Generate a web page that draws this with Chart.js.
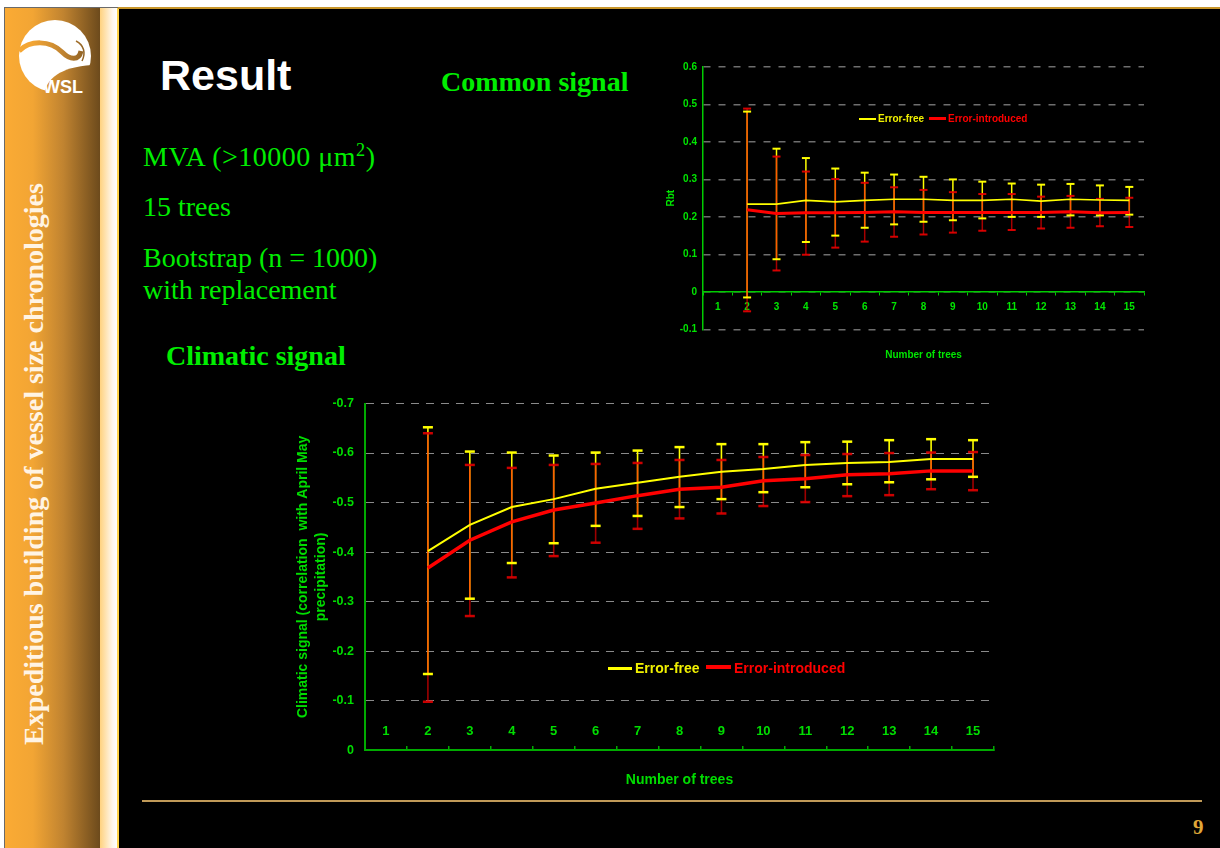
<!DOCTYPE html>
<html><head><meta charset="utf-8"><title>Result</title>
<script src="https://cdn.jsdelivr.net/npm/chart.js@4.4.1/dist/chart.umd.min.js"></script>
<style>
html,body{margin:0;padding:0;background:#fff;width:1220px;height:848px;overflow:hidden}
.abs{position:absolute;white-space:nowrap;margin:0}
.sans{font-family:"Liberation Sans",Arial,sans-serif}
.serif{font-family:"Liberation Serif","Times New Roman",serif}
.g{color:#00ee00}
</style></head><body>

<svg class="abs" style="left:0;top:0" width="120" height="848">
  <defs>
    <linearGradient id="side" gradientUnits="userSpaceOnUse" x1="4" y1="0" x2="100" y2="0">
      <stop offset="0" stop-color="#fbab34"/>
      <stop offset="0.3" stop-color="#f2a534"/>
      <stop offset="0.62" stop-color="#c08330"/>
      <stop offset="1" stop-color="#6c4a1c"/>
    </linearGradient>
    <linearGradient id="cream" gradientUnits="userSpaceOnUse" x1="100" y1="0" x2="117" y2="0">
      <stop offset="0" stop-color="#ffd27f"/>
      <stop offset="0.75" stop-color="#fff8ee"/>
      <stop offset="1" stop-color="#ffffff"/>
    </linearGradient>
  </defs>
  <rect x="4" y="7" width="96" height="841" fill="url(#side)"/>
  <rect x="100" y="7" width="17" height="841" fill="url(#cream)"/>
  <rect x="117" y="7" width="2" height="841" fill="#ffd34a"/>
  <rect x="4" y="7" width="1" height="841" fill="#6a6a6a"/>
  <rect x="4" y="7" width="114" height="1" fill="#6a6a6a"/>
  <!-- logo -->
  <circle cx="55" cy="56" r="36" fill="#ffffff"/>
  <path d="M19 51 C 30 40, 50 40, 62 52 C 70 60, 79 61, 81 51" stroke="url(#side)" stroke-width="5" fill="none"/>
  <path d="M44 95 C 46 79, 60 67, 92 65 L 96 100 L 44 100 Z" fill="url(#side)"/>
  <path d="M76 41 C 84 45, 86 53, 82 61" stroke="url(#side)" stroke-width="1.5" fill="none"/>
  <text x="43" y="93" font-family="Liberation Sans, Arial, sans-serif" font-weight="bold" font-size="18" fill="#ffffff">WSL</text>
  <text transform="translate(43,745) rotate(-90)" font-family="Liberation Serif, Times New Roman, serif" font-weight="bold" font-size="28" fill="#fff4e4">Expeditious building of vessel size chronologies</text>
</svg>

<div class="abs" style="left:119px;top:9px;width:1101px;height:839px;background:#000"></div>
<div class="abs" style="left:118px;top:7px;width:1102px;height:2px;background:#c8962a"></div>
<div class="abs" style="left:142px;top:800px;width:1060px;height:2px;background:#c09a58"></div>

<div class="abs sans" style="left:160px;top:53.6px;font-size:43px;line-height:43px;font-weight:bold;color:#ffffff">Result</div>
<div class="abs serif g" style="left:441px;top:67.5px;font-size:28px;line-height:28px;font-weight:bold">Common signal</div>
<div class="abs serif g" style="left:166px;top:341.7px;font-size:28px;line-height:28px;font-weight:bold">Climatic signal</div>
<div class="abs serif g" style="left:143px;top:142.5px;font-size:28px;line-height:28px;letter-spacing:0.5px">MVA (&gt;10000 μm<sup style="font-size:0.65em;line-height:0;vertical-align:0.55em">2</sup>)</div>
<div class="abs serif g" style="left:143px;top:192.5px;font-size:28px;line-height:28px">15 trees</div>
<div class="abs serif g" style="left:143px;top:243.5px;font-size:28px;line-height:28px">Bootstrap (n = 1000)</div>
<div class="abs serif g" style="left:143px;top:275.5px;font-size:28px;line-height:28px">with replacement</div>
<div class="abs serif" style="left:1193px;top:817px;font-size:21px;line-height:21px;font-weight:bold;color:#e0a838">9</div>

<canvas id="common" class="abs" width="510" height="310" style="left:650px;top:55px"></canvas>
<canvas id="climate" class="abs" width="730" height="410" style="left:280px;top:385px"></canvas>

<!-- legends -->
<div class="abs" style="left:859px;top:118px;width:17px;height:2px;background:#ffff00"></div>
<div class="abs sans" style="left:878px;top:113px;font-size:10px;line-height:12px;font-weight:bold;color:#f0f000">Error-free</div>
<div class="abs" style="left:929px;top:117px;width:17px;height:3px;background:#ff0000"></div>
<div class="abs sans" style="left:948px;top:113px;font-size:10px;line-height:12px;font-weight:bold;color:#ff0000">Error-introduced</div>

<div class="abs" style="left:608px;top:666.5px;width:24px;height:3px;background:#ffff00"></div>
<div class="abs sans" style="left:635px;top:660px;font-size:14px;line-height:16px;font-weight:bold;color:#f0f000">Error-free</div>
<div class="abs" style="left:706px;top:664.5px;width:25px;height:4px;background:#ff0000"></div>
<div class="abs sans" style="left:734px;top:660px;font-size:14px;line-height:16px;font-weight:bold;color:#ff0000">Error-introduced</div>

<script>
// ---------- data ----------
const categories = ['1','2','3','4','5','6','7','8','9','10','11','12','13','14','15'];

// Common signal (Rbt)
const commonFree     = [null, 0.234, 0.234, 0.244, 0.240, 0.244, 0.247, 0.247, 0.244, 0.244, 0.247, 0.242, 0.247, 0.245, 0.244];
const commonFreeHigh = [null, 0.481, 0.382, 0.357, 0.329, 0.318, 0.313, 0.307, 0.300, 0.294, 0.289, 0.286, 0.288, 0.284, 0.280];
const commonFreeLow  = [null, -0.015, 0.087, 0.133, 0.150, 0.171, 0.180, 0.187, 0.191, 0.196, 0.200, 0.200, 0.204, 0.204, 0.206];
const commonErr      = [null, 0.219, 0.209, 0.211, 0.211, 0.212, 0.214, 0.212, 0.212, 0.212, 0.212, 0.212, 0.214, 0.211, 0.212];
const commonErrHigh  = [null, 0.489, 0.361, 0.321, 0.301, 0.291, 0.279, 0.272, 0.266, 0.261, 0.261, 0.254, 0.256, 0.248, 0.251];
const commonErrLow   = [null, -0.052, 0.057, 0.099, 0.118, 0.134, 0.147, 0.153, 0.158, 0.163, 0.165, 0.169, 0.171, 0.175, 0.173];

// Climatic signal (correlation with April May precipitation)
const climFree     = [null, -0.402, -0.455, -0.491, -0.507, -0.528, -0.540, -0.552, -0.562, -0.568, -0.576, -0.580, -0.582, -0.588, -0.588];
const climFreeHigh = [null, -0.652, -0.603, -0.601, -0.595, -0.601, -0.605, -0.612, -0.618, -0.618, -0.622, -0.623, -0.626, -0.628, -0.626];
const climFreeLow  = [null, -0.154, -0.306, -0.378, -0.418, -0.453, -0.473, -0.491, -0.507, -0.521, -0.531, -0.537, -0.541, -0.547, -0.552];
const climErr      = [null, -0.368, -0.424, -0.461, -0.485, -0.499, -0.514, -0.527, -0.531, -0.544, -0.548, -0.556, -0.558, -0.564, -0.564];
const climErrHigh  = [null, -0.640, -0.576, -0.570, -0.576, -0.578, -0.580, -0.586, -0.586, -0.592, -0.596, -0.598, -0.600, -0.601, -0.602];
const climErrLow   = [null, -0.098, -0.271, -0.349, -0.392, -0.419, -0.447, -0.468, -0.478, -0.493, -0.501, -0.513, -0.515, -0.527, -0.525];

const seriesNames = ['Error-free', 'Error-introduced'];
const commonYTitle = 'Rbt';
const climYTitle = ['Climatic signal (correlation  with April May', 'precipitation)'];
const xTitle = 'Number of trees';

// tick label formatting: one decimal, plain "0" at zero
const fmtTick = v => (Math.abs(v) < 1e-9 ? '0' : (Math.round(v * 10) / 10).toFixed(1));

// ---------- error bar plugin ----------
function errorBars(sets, capHalf, stemWidth, capWidth) {
  return {
    id: 'errorBars',
    beforeDatasetsDraw(chart) {
      const ctx = chart.ctx, xs = chart.scales.x, ys = chart.scales.y;
      ctx.save();
      sets.forEach(s => {
        ctx.strokeStyle = s.stem; ctx.lineWidth = stemWidth;
        for (let i = 0; i < categories.length; i++) {
          if (s.high[i] == null) continue;
          const x = xs.getPixelForValue(i);
          ctx.beginPath();
          ctx.moveTo(x, ys.getPixelForValue(s.high[i]));
          ctx.lineTo(x, ys.getPixelForValue(s.low[i]));
          ctx.stroke();
        }
      });
      sets.slice().reverse().forEach(s => {
        ctx.strokeStyle = s.cap; ctx.lineWidth = capWidth;
        for (let i = 0; i < categories.length; i++) {
          if (s.high[i] == null) continue;
          const x = xs.getPixelForValue(i);
          [s.high[i], s.low[i]].forEach(v => {
            const y = ys.getPixelForValue(v);
            ctx.beginPath(); ctx.moveTo(x - capHalf, y); ctx.lineTo(x + capHalf, y); ctx.stroke();
          });
        }
      });
      ctx.restore();
    }
  };
}

const SANS = 'Liberation Sans, Arial, sans-serif';

// ---------- Common signal chart ----------
(function(){
  const txt = '#00e600', ax = '#00cc00';
  const f10 = {family: SANS, size: 10, weight: 'bold'};
  new Chart(document.getElementById('common'), {
    type: 'line',
    data: {
      labels: categories,
      datasets: [
        {label: seriesNames[0], data: commonFree, borderColor: '#ffff00', borderWidth: 1.6, pointRadius: 0, tension: 0, fill: false},
        {label: seriesNames[1], data: commonErr, borderColor: '#ff0000', borderWidth: 3, pointRadius: 0, tension: 0, fill: false}
      ]
    },
    options: {
      responsive: false, animation: false, devicePixelRatio: 1,
      layout: {padding: {left: 0, top: 10.7, right: 16, bottom: 35.7}},
      plugins: {legend: {display: false}, tooltip: {enabled: false}},
      scales: {
        x: {
          type: 'category', offset: true, position: {y: 0},
          grid: {display: true, drawOnChartArea: false, drawTicks: true, tickLength: 3, tickColor: ax, lineWidth: 1, offset: true},
          border: {display: true, color: ax, width: 1.5},
          ticks: {color: txt, font: f10, padding: 6, maxRotation: 0, autoSkip: false},
          title: {display: true, text: xTitle, color: txt, font: f10, padding: {top: 0, bottom: 4}},
          afterFit(s) { s.height = 73; }
        },
        y: {
          min: -0.1, max: 0.6,
          ticks: {stepSize: 0.1, color: txt, font: f10, padding: 6, callback: fmtTick},
          grid: {color: '#6e6e6e', lineWidth: 1.5, drawTicks: false, z: -1},
          border: {display: true, color: ax, width: 1.5, dash: [7, 8]},
          title: {display: true, text: commonYTitle, color: txt, font: f10, padding: {top: 15, bottom: 0}},
          afterFit(s) { s.width = 53; }
        }
      }
    },
    plugins: [errorBars([
      {high: commonFreeHigh, low: commonFreeLow, stem: '#ffff00', cap: '#ffff00'},
      {high: commonErrHigh, low: commonErrLow, stem: 'rgba(255,0,0,0.65)', cap: 'rgba(235,0,0,0.9)'}
    ], 4, 1.5, 2)]
  });
})();

// ---------- Climatic signal chart ----------
(function(){
  const txt = '#00dd00', ax = '#00aa00';
  new Chart(document.getElementById('climate'), {
    type: 'line',
    data: {
      labels: categories,
      datasets: [
        {label: seriesNames[0], data: climFree, borderColor: '#ffff00', borderWidth: 2, pointRadius: 0, tension: 0, fill: false},
        {label: seriesNames[1], data: climErr, borderColor: '#ff0000', borderWidth: 3.5, pointRadius: 0, tension: 0, fill: false}
      ]
    },
    options: {
      responsive: false, animation: false, devicePixelRatio: 1,
      layout: {padding: {left: 0, top: 14.3, right: 16, bottom: 44.7}},
      plugins: {legend: {display: false}, tooltip: {enabled: false}},
      scales: {
        x: {
          type: 'category', offset: true, position: {y: 0},
          grid: {display: true, drawOnChartArea: false, drawTicks: true, tickLength: -5, tickColor: ax, lineWidth: 1.5, offset: true},
          border: {display: true, color: ax, width: 2},
          ticks: {color: txt, font: {family: SANS, size: 13, weight: 'bold'}, padding: -22, maxRotation: 0, autoSkip: false},
          title: {display: true, text: xTitle, color: txt, font: {family: SANS, size: 14, weight: 'bold'}, padding: {top: 0, bottom: 6.6}},
          afterFit(s) { s.height = 44.7; }
        },
        y: {
          min: -0.7, max: 0, reverse: true,
          ticks: {stepSize: 0.1, color: txt, font: {family: SANS, size: 12.5, weight: 'bold'}, padding: 11, callback: fmtTick},
          grid: {color: '#8a8a8a', lineWidth: 1, drawTicks: false, z: -1},
          border: {display: true, color: ax, width: 2, dash: [8, 7]},
          title: {display: true, text: climYTitle, color: txt, font: {family: SANS, size: 14, weight: 'bold', lineHeight: '18px'}, padding: {top: 14, bottom: 0}},
          afterFit(s) { s.width = 85; }
        }
      }
    },
    plugins: [errorBars([
      {high: climFreeHigh, low: climFreeLow, stem: '#ffff00', cap: '#ffff00'},
      {high: climErrHigh, low: climErrLow, stem: 'rgba(255,0,0,0.62)', cap: 'rgba(225,0,0,0.9)'}
    ], 5, 1.6, 2.5)]
  });
})();
</script>
</body></html>
